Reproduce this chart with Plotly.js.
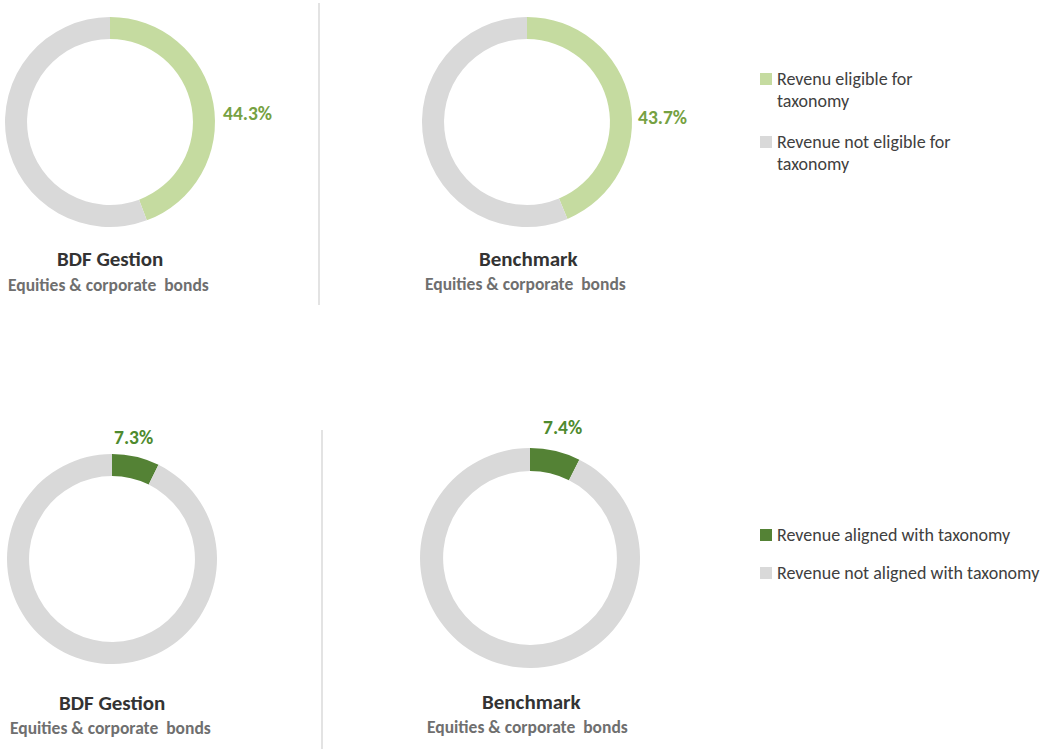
<!DOCTYPE html>
<html>
<head>
<meta charset="utf-8">
<script src="https://cdn.plot.ly/plotly-3.0.1.min.js"></script>
<style>
  html, body { margin: 0; padding: 0; background: #ffffff; }
  #chart { width: 1046px; height: 749px; }
</style>
</head>
<body>
<div id="chart"></div>
<script>
    // ---- data ----
    var eligibleLabels = ['Revenu eligible for<br>taxonomy', 'Revenue not eligible for<br>taxonomy'];
    var alignedLabels  = ['Revenue aligned with taxonomy', 'Revenue not aligned with taxonomy'];

    var eligibleFund      = [44.3, 55.7];
    var eligibleBenchmark = [43.7, 56.3];
    var alignedFund       = [7.3, 92.7];
    var alignedBenchmark  = [7.4, 92.6];

    var portfolioNames = ['BDF Gestion', 'Benchmark'];
    var universeName   = 'Equities & corporate  bonds';

    var W = 1046, H = 749;
    var FONT = 'Carlito, Lato, "Open Sans", sans-serif';
    var lightGreen = '#c5dba0';
    var darkGreen  = '#548235';
    var grey       = '#d9d9d9';

    // donut box in pixels -> pie domain
    function box(cx, cy, r)
    {
        return {
            x: [(cx - r) / W, (cx + r) / W],
            y: [1 - (cy + r) / H, 1 - (cy - r) / H]
        };
    }

    function donut(values, labels, color, dom)
    {
        return {
            type: 'pie',
            values: values,
            labels: labels,
            hole: 0.79,
            sort: false,
            direction: 'clockwise',
            rotation: 0,
            textinfo: 'none',
            hoverinfo: 'label+value',
            marker: { colors: [color, grey], line: { width: 0 } },
            domain: dom,
            showlegend: false
        };
    }

    var data = [
        donut(eligibleFund,      eligibleLabels, lightGreen, box(110, 122, 105)),
        donut(eligibleBenchmark, eligibleLabels, lightGreen, box(527, 122, 105)),
        donut(alignedFund,       alignedLabels,  darkGreen,  box(112, 559, 105)),
        donut(alignedBenchmark,  alignedLabels,  darkGreen,  box(530, 558, 110))
    ];

    // text annotations placed in pixels
    function ann(text, px, py, size, color, bold, anchor)
    {
        return {
            text: bold ? '<b>' + text + '</b>' : text,
            x: px / W, y: 1 - py / H,
            xref: 'paper', yref: 'paper',
            xanchor: anchor || 'center', yanchor: 'middle',
            showarrow: false,
            font: { family: FONT, size: size, color: color }
        };
    }

    var annotations = [
        ann(eligibleFund[0].toFixed(1) + '%',      247, 113, 19.5, '#76a142', true),
        ann(eligibleBenchmark[0].toFixed(1) + '%', 662, 117, 19.5, '#76a142', true),
        ann(alignedFund[0].toFixed(1) + '%',       133, 437, 19.5, '#4e8a2e', true),
        ann(alignedBenchmark[0].toFixed(1) + '%',  562, 427, 19.5, '#4e8a2e', true),

        ann(portfolioNames[0], 110, 259, 21, '#333333', true),
        ann(universeName,      108, 285, 17.5, '#6f6f6f', true),
        ann(portfolioNames[1], 528, 259, 21, '#333333', true),
        ann(universeName,      525, 284, 17.5, '#6f6f6f', true),
        ann(portfolioNames[0], 112, 703, 21, '#333333', true),
        ann(universeName,      110, 728, 17.5, '#6f6f6f', true),
        ann(portfolioNames[1], 531, 702, 21, '#333333', true),
        ann(universeName,      527, 727, 17.5, '#6f6f6f', true)
    ];

    var shapes = [
        { type: 'line', xref: 'paper', yref: 'paper',
          x0: 319 / W, x1: 319 / W, y0: 1 - 3 / H, y1: 1 - 305 / H,
          line: { color: '#e3e3e3', width: 2 } },
        { type: 'line', xref: 'paper', yref: 'paper',
          x0: 322 / W, x1: 322 / W, y0: 1 - 430 / H, y1: 0,
          line: { color: '#e3e3e3', width: 2 } }
    ];

    // hand-made legends (the item spacing of the reference can't be set on plotly legends)
    function legendItem(label, color, top)
    {
        shapes.push({
            type: 'rect', xref: 'paper', yref: 'paper',
            x0: 760 / W, x1: 772 / W, y0: 1 - (top + 6) / H, y1: 1 - (top - 6) / H,
            fillcolor: color, line: { width: 0 }
        });
        var lines = label.split('<br>');
        for (var i = 0; i < lines.length; i++)
            annotations.push(ann(lines[i], 775, top + i * 22, 18, '#404040', false, 'left'));
    }

    legendItem(eligibleLabels[0], lightGreen, 79);
    legendItem(eligibleLabels[1], grey, 142);
    legendItem(alignedLabels[0], darkGreen, 535);
    legendItem(alignedLabels[1], grey, 573);

    var layout = {
        width: W,
        height: H,
        margin: { l: 0, r: 0, t: 0, b: 0 },
        paper_bgcolor: '#ffffff',
        font: { family: FONT, color: '#404040' },
        annotations: annotations,
        shapes: shapes,
        showlegend: false
    };

    Plotly.newPlot('chart', data, layout, { displayModeBar: false });
</script>
</body>
</html>
